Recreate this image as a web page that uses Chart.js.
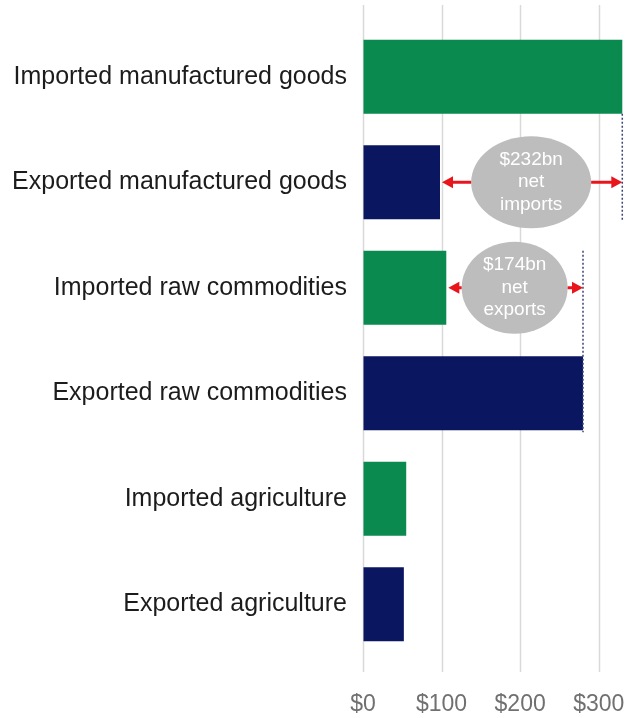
<!DOCTYPE html>
<html>
<head>
<meta charset="utf-8">
<script src="https://cdn.jsdelivr.net/npm/chart.js@4/dist/chart.umd.min.js"></script>
<style>
    html, body { margin: 0; padding: 0; background: #fff; }
    #wrap { width: 627px; height: 718px; }
</style>
</head>
<body>
<div id="wrap"><canvas id="chart" width="627" height="718"></canvas></div>
<script>
const categories = [
    'Imported manufactured goods',
    'Exported manufactured goods',
    'Imported raw commodities',
    'Exported raw commodities',
    'Imported agriculture',
    'Exported agriculture'
];
// $bn
const values = [330, 98, 106, 280, 55, 52];
const xTicks = [0, 100, 200, 300];
// [smaller bar, larger bar, word]
const netGaps = [
    [1, 0, 'imports'],
    [2, 3, 'exports']
];

const green = '#0a8a4f';
const navy = '#0b1660';
const barColors = categories.map(c => c.startsWith('Imported') ? green : navy);
const font = "'Liberation Sans', Arial, sans-serif";

// vertical gridlines running a bit past the plot area
const gridPlugin = {
    id: 'tallGrid',
    beforeDatasetsDraw(chart) {
        const ctx = chart.ctx;
        const x = chart.scales.x;
        ctx.save();
        ctx.strokeStyle = '#d9d9d9';
        ctx.lineWidth = 1.5;
        xTicks.forEach(t => {
            const px = Math.round(x.getPixelForValue(t)) + 0.5;
            ctx.beginPath();
            ctx.moveTo(px, 5);
            ctx.lineTo(px, 672);
            ctx.stroke();
        });
        ctx.restore();
    }
};

function arrow(ctx, x1, x2, y) {
    const dir = x2 > x1 ? 1 : -1;
    ctx.beginPath();
    ctx.moveTo(x1, y);
    ctx.lineTo(x2 - dir * 8, y);
    ctx.stroke();
    ctx.beginPath();
    ctx.moveTo(x2, y);
    ctx.lineTo(x2 - dir * 11, y - 6);
    ctx.lineTo(x2 - dir * 11, y + 6);
    ctx.closePath();
    ctx.fill();
}

const gapPlugin = {
    id: 'netGaps',
    afterDatasetsDraw(chart) {
        const ctx = chart.ctx;
        const x = chart.scales.x;
        const bars = chart.getDatasetMeta(0).data;
        ctx.save();
        netGaps.forEach(([lo, hi, word]) => {
            const a = bars[lo], b = bars[hi];
            const xLo = x.getPixelForValue(values[lo]);
            const xHi = x.getPixelForValue(values[hi]);
            const y = a.y;

            // dotted marker at the end of the larger bar
            const top = Math.min(a.y - a.height / 2, b.y + b.height / 2);
            const bottom = Math.max(a.y + a.height / 2, b.y + b.height / 2);
            ctx.strokeStyle = '#3a4475';
            ctx.lineWidth = 1.5;
            ctx.setLineDash([2, 2]);
            ctx.beginPath();
            ctx.moveTo(xHi, top);
            ctx.lineTo(xHi, bottom + 2);
            ctx.stroke();
            ctx.setLineDash([]);

            // grey bubble in the middle of the gap
            const cx = (xLo + xHi) / 2;
            const rx = word === 'imports' ? 60 : 53;
            ctx.fillStyle = '#bdbdbd';
            ctx.beginPath();
            ctx.ellipse(cx, y, rx, 46, 0, 0, Math.PI * 2);
            ctx.fill();

            ctx.strokeStyle = '#e8161c';
            ctx.fillStyle = '#e8161c';
            ctx.lineWidth = 3;
            arrow(ctx, cx - rx, xLo + 2, y);
            arrow(ctx, cx + rx, xHi, y);

            ctx.fillStyle = '#ffffff';
            ctx.font = '19px ' + font;
            ctx.textAlign = 'center';
            ctx.textBaseline = 'middle';
            const lines = ['$' + (values[hi] - values[lo]) + 'bn', 'net', word];
            lines.forEach((s, i) => ctx.fillText(s, cx, y + (i - 1) * 22.5));
        });
        ctx.restore();
    }
};

const ctx = document.getElementById('chart').getContext('2d');
new Chart(ctx, {
    type: 'bar',
    data: {
        labels: categories,
        datasets: [{
            data: values,
            backgroundColor: barColors,
            borderWidth: 0,
            categoryPercentage: 1,
            barPercentage: 0.7
        }]
    },
    options: {
        indexAxis: 'y',
        responsive: false,
        animation: false,
        events: [],
        layout: { padding: { top: 24, left: 0, right: 0, bottom: 0 } },
        plugins: {
            legend: { display: false },
            tooltip: { enabled: false }
        },
        scales: {
            x: {
                min: 0,
                max: 336,
                border: { display: false },
                grid: { drawOnChartArea: false, drawTicks: false },
                afterFit(scale) {
                    scale.height = 61;
                    scale.paddingLeft = 0;
                    scale.paddingRight = 0;
                },
                ticks: {
                    stepSize: 100,
                    includeBounds: false,
                    padding: 34,
                    color: '#707070',
                    font: { family: font, size: 23 },
                    callback: v => '$' + v
                }
            },
            y: {
                border: { display: false },
                grid: { display: false },
                afterFit(scale) {
                    scale.width = 363;
                    scale.paddingTop = 0;
                    scale.paddingBottom = 0;
                },
                ticks: {
                    padding: 8,
                    color: '#1c1c1c',
                    font: { family: font, size: 25 }
                }
            }
        }
    },
    plugins: [gridPlugin, gapPlugin]
});
</script>
</body>
</html>
